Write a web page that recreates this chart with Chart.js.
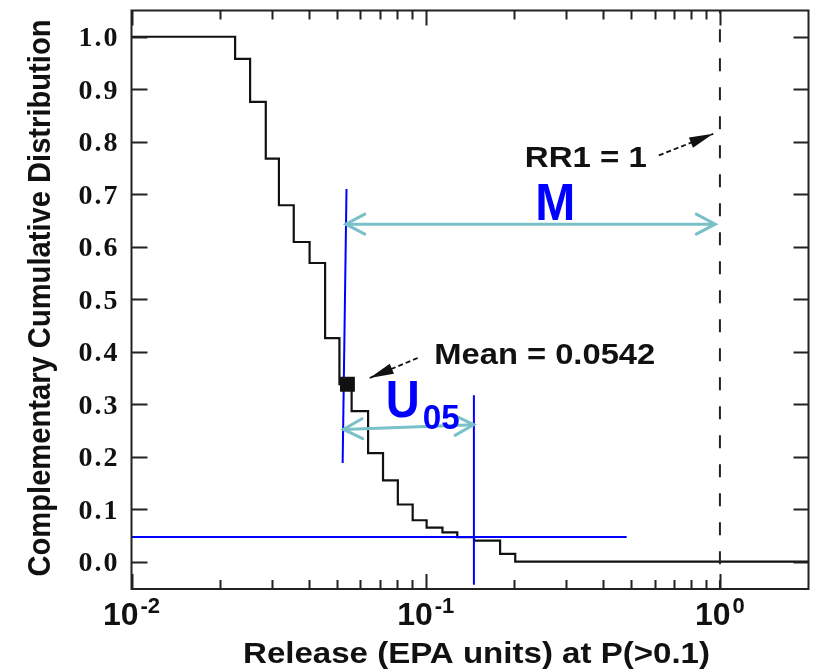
<!DOCTYPE html>
<html>
<head>
<meta charset="utf-8">
<script src="https://cdn.jsdelivr.net/npm/chart.js@4.4.1/dist/chart.umd.min.js"></script>
<style>
  html, body { margin: 0; padding: 0; background: #fff; }
  canvas { display: block; }
</style>
</head>
<body>
<canvas id="ccdf" width="819" height="671"></canvas>
<script>
// CCDF steps: release value where the curve drops, and the level right after it
const releaseX = [0.01, 0.0225, 0.0253, 0.0286, 0.0317, 0.0356, 0.0403, 0.0455, 0.0509, 0.0560, 0.0637,
                  0.0716, 0.0804, 0.0903, 0.1007, 0.114, 0.128, 0.146, 0.179, 0.2015, 2];
const ccdfY = [1.0, 0.958, 0.876, 0.768, 0.679, 0.609, 0.569, 0.426, 0.338, 0.287, 0.207,
               0.155, 0.109, 0.079, 0.065, 0.056, 0.047, 0.040, 0.015, 0.0, 0.0];

// marked values
const meanRelease = 0.0542;
const meanLevel = 0.338;
const rr1Release = 1;
const u05Release = 0.1458;
const u05Level = 0.047;

const meanGuideX = [0.0538, 0.0522];
const meanGuideY = [0.710, 0.188];
const u05GuideY = [0.317, -0.044];
const levelGuideX = [0.01, 0.482];

// double arrows (teal)
const mArrowX = [0.0535, 0.964];
const mArrowY = [0.643, 0.643];
const uArrowX = [0.0525, 0.1455];
const uArrowY = [0.252, 0.261];

// pointer arrows (black): tail -> tip
const meanPointerX = [0.0939, 0.0645];
const meanPointerY = [0.388, 0.350];
const rrPointerX = [0.62, 0.949];
const rrPointerY = [0.774, 0.815];

// ticks
const yTickValues = [0, 0.1, 0.2, 0.3, 0.4, 0.5, 0.6, 0.7, 0.8, 0.9, 1.0];
const xDecades = [0.01, 0.1, 1];
const xDecadeExp = ['-2', '-1', '0'];
const xMinorTicks = [0.02, 0.03, 0.04, 0.05, 0.06, 0.07, 0.08, 0.09, 0.2, 0.3, 0.4, 0.5, 0.6, 0.7, 0.8, 0.9];

const xTitle = 'Release (EPA units) at P(>0.1)';
const yTitle = 'Complementary Cumulative Distribution';

// text notes anchored in data units
const notes = [
    { text: 'Mean = 0.0542', x: 0.1069, y: 0.3775, font: 'bold 30px "Liberation Sans", Arial', color: '#111', width: 221 },
    { text: 'RR1 = 1', x: 0.2172, y: 0.752, font: 'bold 30px "Liberation Sans", Arial', color: '#111', width: 122 },
    { text: 'M', x: 0.2357, y: 0.6516, font: 'bold 52px "Liberation Sans", Arial', color: '#0000ff', width: 40 }
];

const TEAL = 'rgb(122,192,200)';
const BLUE = '#0000ff';

function pts(xs, ys) {
    return xs.map((x, i) => ({ x, y: ys[i] }));
}

function fitText(ctx, text, x, y, width, font) {
    ctx.font = font;
    const w = ctx.measureText(text).width;
    ctx.save();
    ctx.translate(x, y);
    ctx.scale(width / w, 1);
    ctx.fillText(text, 0, 0);
    ctx.restore();
}

function drawHead(ctx, from, to, len, half, filled) {
    const ang = Math.atan2(to.y - from.y, to.x - from.x);
    const bx = to.x - len * Math.cos(ang), by = to.y - len * Math.sin(ang);
    const nx = -Math.sin(ang) * half, ny = Math.cos(ang) * half;
    ctx.beginPath();
    ctx.moveTo(bx + nx, by + ny);
    ctx.lineTo(to.x, to.y);
    ctx.lineTo(bx - nx, by - ny);
    if (filled) {
        ctx.closePath();
        ctx.fill();
    } else {
        ctx.stroke();
    }
}

// arrow heads on datasets flagged with `arrow`
const arrowHeads = {
    id: 'arrowHeads',
    afterDatasetsDraw(chart) {
        const ctx = chart.ctx;
        chart.data.datasets.forEach((ds, i) => {
            if (!ds.arrow) return;
            const p = chart.getDatasetMeta(i).data;
            const a = { x: p[0].x, y: p[0].y }, b = { x: p[1].x, y: p[1].y };
            ctx.save();
            ctx.strokeStyle = ds.borderColor;
            ctx.fillStyle = ds.borderColor;
            ctx.lineWidth = ds.borderWidth;
            ctx.lineCap = 'round';
            if (ds.arrow === 'both') {
                drawHead(ctx, b, a, 19, 10, false);
                drawHead(ctx, a, b, 19, 10, false);
            } else {
                drawHead(ctx, a, b, 24, 5.5, true);
            }
            ctx.restore();
        });
    }
};

// frame, inward ticks, tick labels, titles and notes
const frame = {
    id: 'frame',
    afterDraw(chart) {
        const ctx = chart.ctx;
        const xs = chart.scales.x, ys = chart.scales.y;
        const { left, right, top, bottom } = chart.chartArea;
        ctx.save();
        ctx.strokeStyle = '#222';
        ctx.lineWidth = 2;
        ctx.strokeRect(left, top, right - left, bottom - top);

        ctx.beginPath();
        yTickValues.forEach(v => {
            const py = Math.round(ys.getPixelForValue(v)) + 0.5;
            ctx.moveTo(left, py); ctx.lineTo(left + 16, py);
            ctx.moveTo(right, py); ctx.lineTo(right - 15, py);
        });
        xDecades.forEach(v => {
            const px = Math.round(xs.getPixelForValue(v)) + 0.5;
            ctx.moveTo(px, bottom); ctx.lineTo(px, bottom - 15);
            ctx.moveTo(px, top); ctx.lineTo(px, top + 15);
        });
        xMinorTicks.forEach(v => {
            const px = Math.round(xs.getPixelForValue(v)) + 0.5;
            ctx.moveTo(px, bottom); ctx.lineTo(px, bottom - 9);
            ctx.moveTo(px, top); ctx.lineTo(px, top + 9);
        });
        ctx.stroke();

        ctx.fillStyle = '#111';
        ctx.textAlign = 'right';
        ctx.textBaseline = 'alphabetic';
        ctx.font = 'bold 28px "Liberation Serif", "Times New Roman", serif';
        ctx.letterSpacing = '2px';
        yTickValues.forEach(v => {
            ctx.fillText(v.toFixed(1), left - 12, ys.getPixelForValue(v) + 9.5);
        });
        ctx.letterSpacing = '0px';

        ctx.textAlign = 'left';
        xDecades.forEach((v, i) => {
            const px = xs.getPixelForValue(v);
            ctx.font = 'bold 32px "Liberation Sans", Arial';
            const wBase = ctx.measureText('10').width;
            ctx.font = 'bold 22px "Liberation Sans", Arial';
            const wExp = ctx.measureText(xDecadeExp[i]).width;
            const x0 = px - (wBase + wExp + 2) / 2;
            ctx.font = 'bold 32px "Liberation Sans", Arial';
            ctx.fillText('10', x0, bottom + 36);
            ctx.font = 'bold 22px "Liberation Sans", Arial';
            ctx.fillText(xDecadeExp[i], x0 + wBase + 2, bottom + 24);
        });

        ctx.textAlign = 'center';
        fitText(ctx, xTitle, 476.5, bottom + 74, 467, 'bold 30px "Liberation Sans", Arial');
        ctx.save();
        ctx.translate(50, 298);
        ctx.rotate(-Math.PI / 2);
        fitText(ctx, yTitle, 0, 0, 557, 'bold 32px "Liberation Sans", Arial');
        ctx.restore();

        notes.forEach(n => {
            ctx.fillStyle = n.color;
            ctx.textAlign = n.text === 'M' ? 'center' : 'left';
            const px = xs.getPixelForValue(n.x), py = ys.getPixelForValue(n.y);
            if (n.text === 'M') {
                fitText(ctx, n.text, px + 20, py, n.width, n.font);
            } else {
                fitText(ctx, n.text, px, py, n.width, n.font);
            }
        });

        // U with subscript 05
        ctx.fillStyle = BLUE;
        ctx.textAlign = 'left';
        const ux = xs.getPixelForValue(0.0731), uy = ys.getPixelForValue(0.2747);
        fitText(ctx, 'U', ux, uy, 34, 'bold 52px "Liberation Sans", Arial');
        fitText(ctx, '05', ux + 37, uy + 12, 37, 'bold 35px "Liberation Sans", Arial');
        ctx.restore();
    }
};

const line = (data, color, width, extra) => Object.assign({
    data, borderColor: color, backgroundColor: color, borderWidth: width,
    pointRadius: 0, fill: false, tension: 0
}, extra || {});

new Chart(document.getElementById('ccdf'), {
    type: 'line',
    data: {
        datasets: [
            line([{ x: meanRelease, y: meanLevel }], '#111', 0, { pointRadius: 10.5, pointStyle: 'rect', showLine: false }),
            line(pts(meanPointerX, meanPointerY), '#111', 1.8, { borderDash: [5, 3], arrow: 'end' }),
            line(pts(rrPointerX, rrPointerY), '#111', 1.8, { borderDash: [5, 3], arrow: 'end' }),
            line(pts(mArrowX, mArrowY), TEAL, 3, { arrow: 'both' }),
            line(pts(uArrowX, uArrowY), TEAL, 3, { arrow: 'both' }),
            line(pts(meanGuideX, meanGuideY), BLUE, 2),
            line(pts([u05Release, u05Release], u05GuideY), BLUE, 2),
            line(pts(levelGuideX, [u05Level, u05Level]), BLUE, 2),
            line(pts([rr1Release, rr1Release], [-0.06, 1.06]), '#222', 2, { borderDash: [13, 16] }),
            line(pts(releaseX, ccdfY), '#111', 2.2, { stepped: 'before' })
        ]
    },
    options: {
        responsive: false,
        devicePixelRatio: 1,
        animation: false,
        layout: { padding: { left: 131.5, right: 3, top: 8, bottom: 82 } },
        plugins: { legend: { display: false }, tooltip: { enabled: false } },
        scales: {
            x: { type: 'logarithmic', min: 0.01, max: 2, display: false, ticks: { display: false } },
            y: { type: 'linear', min: -0.052, max: 1.05, display: false, ticks: { display: false } }
        }
    },
    plugins: [arrowHeads, frame]
});
</script>
</body>
</html>
